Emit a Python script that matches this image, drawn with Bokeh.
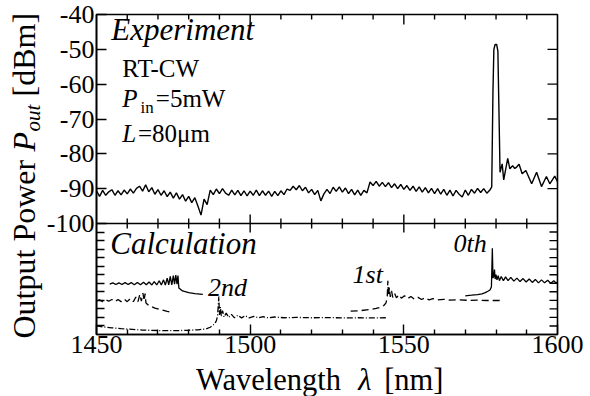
import math
import numpy as np
from bokeh.plotting import figure
from bokeh.layouts import row, column
from bokeh.models import Range1d, LinearAxis, FixedTicker, Label, Span, ColumnDataSource
from bokeh.embed import file_html
from bokeh.resources import INLINE

NAN = float("nan")

# ---- Experiment: measured output spectrum (nm, dBm) ----
exp_wl = list(range(1450, 1579)) + [
    1578.6, 1579.0, 1579.3, 1579.7, 1580.2, 1580.6, 1581.0, 1581.3, 1582.0,
    1582.5, 1583.8, 1584.5, 1585.4, 1586.1, 1586.7, 1587.5, 1588.5, 1589.7,
    1591.6, 1593.2, 1594.8, 1596.4, 1597.5, 1599.1, 1600.0]
exp_dbm = [
    -90.6, -92.2, -90.5, -91.9, -90.9, -90.3, -91.9, -90.6, -91.8, -90.4,
    -91.5, -90.1, -91.3, -89.9, -89.3, -90.7, -88.9, -90.9, -89.7, -91.6,
    -90.3, -91.9, -90.6, -92.3, -91.0, -92.7, -91.2, -93.0, -91.7, -93.6,
    -92.2, -94.0, -92.6, -95.0, -97.6, -93.0, -94.6, -90.4, -91.7, -90.1,
    -91.4, -90.0, -91.3, -91.9, -90.4, -91.8, -90.5, -92.0, -90.6, -92.1,
    -90.7, -91.9, -90.4, -92.0, -90.6, -91.9, -90.7, -92.2, -90.8, -92.0,
    -90.6, -91.7, -90.1, -90.5, -89.3, -90.3, -89.1, -90.6, -89.6, -91.2,
    -90.2, -91.7, -90.5, -93.5, -91.5, -90.2, -91.4, -89.6, -90.8, -89.5,
    -91.0, -89.8, -91.4, -90.2, -91.8, -90.4, -91.9, -90.5, -91.2, -88.1,
    -89.1, -87.9, -89.3, -88.2, -89.4, -88.3, -89.7, -88.6, -90.0, -88.8,
    -90.2, -89.1, -90.5, -89.3, -90.8, -89.5, -91.0, -89.7, -91.2, -89.9,
    -91.4, -90.0, -91.6, -90.2, -91.9, -90.4, -92.1, -90.5, -91.6, -92.4,
    -90.4, -91.9, -90.2, -91.3, -89.9, -91.1, -90.0, -91.3, -90.4,
    -89.5, -62.0, -50.0, -48.6, -48.6, -50.5, -70.0, -85.3, -82.9,
    -87.5, -81.3, -84.3, -83.4, -84.2, -83.8, -83.0, -85.7, -84.8,
    -88.6, -85.3, -89.4, -86.5, -88.6, -86.4, -88.0]

# ---- Calculation: 0th / 1st / 2nd order (arb. units); NaN splits branches ----
calc0_wl = [1454.3, 1455.3, 1456.3, 1457.3, 1458.3, 1459.3, 1460.3, 1461.3,
            1462.3, 1463.3, 1464.3, 1465.3, 1466.2, 1467.1, 1468.0, 1468.8,
            1469.6, 1470.4, 1471.1, 1471.8, 1472.4, 1473.0, 1473.5, 1474.0,
            1474.5, 1475.0, 1475.4, 1475.8, 1476.2, 1476.5, 1476.8, 1478.0,
            1480.0, 1482.0, 1484.6, NAN,
            1570.0, 1572.0, 1574.0, 1575.4, 1576.5, 1577.5, 1578.1, 1578.5,
            1578.8, 1579.0, 1579.3, 1579.5, 1579.7, 1580.0, 1580.3, 1580.7,
            1581.1, 1581.7, 1582.4, 1583.1, 1583.9, 1584.8, 1585.8, 1586.8,
            1587.8, 1588.8, 1589.8, 1590.8, 1591.8, 1592.8, 1593.8, 1594.8,
            1595.8, 1596.8, 1597.8, 1598.8, 1599.5, 1600.0]
calc0_amp = [5.90, 6.05, 5.85, 6.05, 5.85, 6.08, 5.85, 6.08,
             5.83, 6.10, 5.83, 6.12, 5.82, 6.15, 5.80, 6.20,
             5.80, 6.30, 5.80, 6.40, 5.80, 6.60, 5.80, 6.80,
             5.80, 6.90, 5.90, 6.95, 5.90, 6.90, 5.45, 5.10,
             4.90, 4.78, 4.70, NAN,
             4.53, 4.60, 4.68, 4.77, 4.90, 5.10, 5.25, 5.60,
             10.1, 6.60, 6.90, 7.60, 6.50, 7.00, 6.40, 6.90,
             6.30, 6.80, 6.30, 6.75, 6.30, 6.70, 6.25, 6.60,
             6.20, 6.55, 6.15, 6.50, 6.10, 6.45, 6.05, 6.40,
             6.05, 6.35, 6.00, 6.30, 6.05, 6.15]

calc1_wl = [1450.0, 1451.0, 1452.0, 1453.0, 1454.0, 1455.0, 1456.0, 1457.0,
            1458.0, 1459.0, 1460.0, 1461.0, 1462.0, 1462.8, 1463.5, 1464.1,
            1464.6, 1465.1, 1465.5, 1465.8, 1466.1, 1467.0, 1469.0, 1471.0,
            1473.0, 1474.8, NAN,
            1532.7, 1536.0, 1539.0, 1541.0, 1542.5, 1543.5, 1544.2, 1544.6,
            1544.8, 1545.0, 1545.3, 1545.6, 1546.0, 1546.4, 1547.0, 1547.6,
            1548.4, 1549.2, 1550.2, 1551.2, 1552.3, 1553.4, 1554.6, 1555.8,
            1557.0, 1558.2, 1559.5, 1561.0, 1563.0, 1565.0, 1568.0, 1571.0,
            1574.0, 1577.0, 1581.3]
calc1_amp = [3.95, 4.05, 3.85, 4.05, 3.90, 4.10, 3.85, 4.10,
             3.85, 4.15, 3.85, 4.20, 3.85, 4.40, 3.85, 4.70,
             3.90, 4.85, 3.95, 4.80, 3.70, 3.40, 3.10, 2.90,
             2.70, 2.60, NAN,
             2.73, 2.80, 2.92, 3.05, 3.20, 3.40, 3.70, 4.40,
             6.30, 4.50, 5.50, 4.40, 5.10, 4.35, 4.80, 4.30,
             4.65, 4.25, 4.55, 4.20, 4.45, 4.15, 4.35, 4.10,
             4.30, 4.05, 4.20, 4.05, 4.12, 4.02, 4.06, 4.00,
             4.02, 3.98, 3.98]

calc2_wl = [1450.0, 1452.0, 1455.0, 1458.0, 1460.7, 1465.0, 1471.6, 1476.0,
            1480.0, 1483.0, 1485.6, 1487.0, 1488.3, 1489.0, 1489.4, 1489.8,
            1490.0, 1490.3, 1490.6, 1491.0, 1491.5, 1492.2, 1493.0, 1493.9,
            1494.9, 1496.0, 1497.2, 1498.4, 1499.7, 1501.2, 1502.7, 1504.2,
            1506.0, 1508.0, 1511.0, 1515.0, 1520.0, 1525.0, 1530.0, 1535.0,
            1540.0, 1544.3]
calc2_amp = [1.02, 0.90, 0.78, 0.68, 0.62, 0.52, 0.45, 0.45,
             0.50, 0.55, 0.65, 0.85, 1.20, 1.60, 2.20, 4.45,
             2.30, 3.20, 2.10, 2.80, 2.05, 2.50, 2.00, 2.35,
             1.95, 2.25, 1.95, 2.20, 1.95, 2.12, 1.95, 2.08,
             1.95, 2.05, 1.96, 2.00, 1.96, 1.98, 1.95, 1.96,
             1.95, 1.96]

# ---- ticks ----
x_major = [1450, 1500, 1550, 1600]
x_minor = [1460, 1470, 1480, 1490, 1510, 1520, 1530, 1540, 1560, 1570, 1580, 1590]
y_major = [-40, -50, -60, -70, -80, -90, -100]
y_labels = ["-40", "-50", "-60", "-70", "-80", "-90", "-100"]
calc_ticks = list(range(1, 13))

FONT = "Liberation Serif"
BLACK = "black"

# page geometry (px)
W, H = 590, 396
LEFT_W = 43           # strip holding the vertical axis title
MAIN_H = 362          # main plot height; strip below holds the x title
BORDER_L, BORDER_R = 93 - LEFT_W, 33

# upper panel: dBm scale; lower panel: calculation scale below Y_SPLIT
Y_TOP, Y_SPLIT = -40, -100
LOWER_SHARE = 111 / 209
Y_BOTTOM = Y_SPLIT - (Y_TOP - Y_SPLIT) * LOWER_SHARE
CALC_SPLIT = 13
CALC_END = CALC_SPLIT * (Y_TOP - Y_BOTTOM) / (Y_SPLIT - Y_BOTTOM)


def calc_to_db(v):
    return Y_BOTTOM + v * (Y_SPLIT - Y_BOTTOM) / CALC_SPLIT


x_range = Range1d(1450, 1600)
p = figure(width=W - LEFT_W, height=MAIN_H, output_backend="svg", toolbar_location=None,
           title=None, x_range=x_range, y_range=Range1d(Y_BOTTOM, Y_TOP),
           x_axis_location=None, y_axis_location=None,
           min_border_left=BORDER_L, min_border_right=BORDER_R,
           min_border_top=14, min_border_bottom=MAIN_H - 334)
p.extra_y_ranges = {"calc": Range1d(0, CALC_END)}
p.xgrid.grid_line_color = None
p.ygrid.grid_line_color = None
p.outline_line_color = BLACK
p.outline_line_width = 1.6


def style_axis(ax, major_len, minor_len):
    ax.major_tick_in = major_len
    ax.major_tick_out = 0
    ax.minor_tick_in = minor_len
    ax.minor_tick_out = 0
    ax.axis_line_color = BLACK
    ax.axis_line_width = 1.6
    ax.major_tick_line_width = 1.4
    ax.minor_tick_line_width = 1.4
    ax.major_tick_line_color = BLACK
    ax.minor_tick_line_color = BLACK
    ax.major_label_text_font = FONT
    ax.major_label_text_font_size = "26px"
    ax.major_label_text_color = BLACK


calc_minor_db = [calc_to_db(k) for k in calc_ticks]

xb = LinearAxis(ticker=FixedTicker(ticks=x_major, minor_ticks=x_minor))
style_axis(xb, 10, 5)
xb.major_label_standoff = 1
p.add_layout(xb, "below")

yl = LinearAxis(ticker=FixedTicker(ticks=y_major, minor_ticks=calc_minor_db))
style_axis(yl, 10, 8)
yl.major_label_standoff = 2
yl.major_label_overrides = dict(zip(y_major, y_labels))
p.add_layout(yl, "left")

TICK = dict(length_units="screen", line_color=BLACK, line_width=1.4)

# top edge ticks, pointing down into the frame
top_x = x_major[1:3] + x_minor
top_len = [10, 10] + [5] * len(x_minor)
p.ray(x=top_x, y=[Y_TOP] * len(top_x), length=top_len, angle=-math.pi / 2, **TICK)

# right edge ticks, pointing left into the frame
right_y = y_major[1:6] + calc_minor_db
right_len = [10] * 5 + [8] * len(calc_minor_db)
p.ray(x=[1600] * len(right_y), y=right_y, length=right_len, angle=math.pi, **TICK)

# panel divider with ticks on both sides
p.add_layout(Span(location=Y_SPLIT, dimension="width", line_color=BLACK, line_width=1.6))
div_x = x_major[1:3] + x_minor
div_len = [9, 9] + [5] * len(x_minor)
for ang in (math.pi / 2, -math.pi / 2):
    p.ray(x=div_x, y=[Y_SPLIT] * len(div_x), length=div_len, angle=ang, **TICK)

# curves
p.line(exp_wl, exp_dbm, line_color=BLACK, line_width=1.4)
p.line(source=ColumnDataSource(dict(x=np.array(calc0_wl), y=np.array(calc0_amp))),
       x="x", y="y", y_range_name="calc", line_color=BLACK, line_width=1.3)
p.line(source=ColumnDataSource(dict(x=np.array(calc1_wl), y=np.array(calc1_amp))),
       x="x", y="y", y_range_name="calc", line_color=BLACK, line_width=1.3,
       line_dash="7 4")
p.line(source=ColumnDataSource(dict(x=np.array(calc2_wl), y=np.array(calc2_amp))),
       x="x", y="y", y_range_name="calc", line_color=BLACK, line_width=1.3,
       line_dash="6 2 1 2")


def add_text(fig, text, x, y, size, italic=False, range_name=None, angle=0.0,
             align="left"):
    """Label anchored at the vertical middle of its line."""
    kw = dict(x=x, y=y, text=text, text_font=FONT, text_font_size=f"{size}px",
              text_color=BLACK, text_align=align, text_baseline="middle",
              angle=angle, text_font_style="italic" if italic else "normal")
    if range_name:
        kw["y_range_name"] = range_name
    fig.add_layout(Label(**kw))


# top-panel annotations
add_text(p, "Experiment", 1454.8, -44.3, 31, italic=True)
add_text(p, "RT-CW", 1458.4, -55.6, 25)
add_text(p, "P", 1458.4, -64.2, 25, italic=True)
add_text(p, "in", 1464.3, -66.8, 17)
add_text(p, "=5mW", 1469.3, -64.2, 25)
add_text(p, "L", 1458.4, -74.2, 25, italic=True)
add_text(p, "=80μm", 1463.5, -74.2, 25)

# bottom-panel annotations
add_text(p, "Calculation", 1454.5, 10.6, 31, italic=True, range_name="calc")
add_text(p, "2nd", 1486.3, 5.5, 26, italic=True, range_name="calc")
add_text(p, "1st", 1533.3, 7.0, 26, italic=True, range_name="calc")
add_text(p, "0th", 1566.2, 10.6, 26, italic=True, range_name="calc")


def text_strip(width, height, xr, yr, **borders):
    f = figure(width=width, height=height, output_backend="svg", toolbar_location=None,
               title=None, x_range=xr, y_range=yr,
               x_axis_location=None, y_axis_location=None, min_border=0, **borders)
    f.xgrid.grid_line_color = None
    f.ygrid.grid_line_color = None
    f.outline_line_color = None
    return f


# vertical axis title (strip data units are page pixels, y downward)
side = text_strip(LEFT_W, H, Range1d(0, LEFT_W), Range1d(H, 0))
YT_X = 23
add_text(side, "Output Power", YT_X, 338, 32, angle=math.pi / 2)
add_text(side, "P", YT_X, 151, 32, italic=True, angle=math.pi / 2)
add_text(side, "out", 32, 131, 21, italic=True, angle=math.pi / 2)
add_text(side, "[dBm]", YT_X, 96, 32, angle=math.pi / 2)

# horizontal axis title (x in nm, y in page pixels)
below = text_strip(W - LEFT_W, H - MAIN_H, x_range, Range1d(H, MAIN_H),
                   min_border_left=BORDER_L, min_border_right=BORDER_R)
XT_Y = 379
add_text(below, "Wavelength", 1482.4, XT_Y, 30.5)
add_text(below, "λ", 1535.2, XT_Y, 30.5, italic=True)
add_text(below, "[nm]", 1543.6, XT_Y, 30.5)

layout = row(side, column(p, below, spacing=0), spacing=0)
open("out.html", "w").write(file_html(layout, INLINE))
